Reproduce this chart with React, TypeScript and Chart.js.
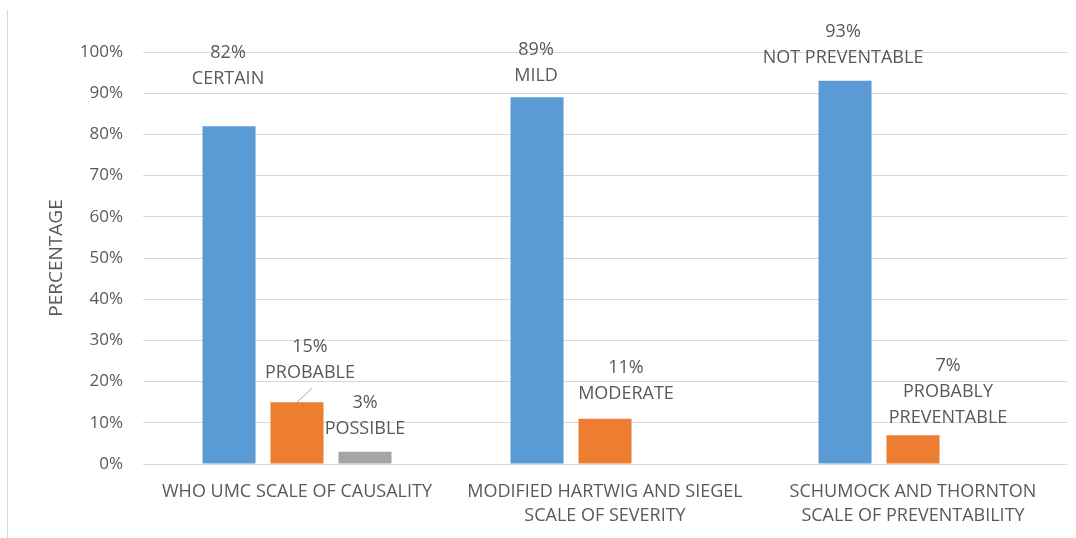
import React, { useEffect, useRef } from "react";
import { Chart, registerables } from "chart.js";

Chart.register(...registerables);

// Category labels (multi-line)
const categories = [
  ["WHO UMC SCALE OF CAUSALITY"],
  ["MODIFIED HARTWIG AND SIEGEL", "SCALE OF SEVERITY"],
  ["SCHUMOCK AND THORNTON", "SCALE OF PREVENTABILITY"],
];

// Percent values for each rank within a scale
const firstValues = [82, 89, 93];
const secondValues = [15, 11, 7];
const thirdValues: (number | null)[] = [3, null, null];

// Names shown under each value label
const firstNames = [["CERTAIN"], ["MILD"], ["NOT PREVENTABLE"]];
const secondNames = [["PROBABLE"], ["MODERATE"], ["PROBABLY", "PREVENTABLE"]];
const thirdNames = [["POSSIBLE"], [], []];

// Y axis ticks
const yMax = 100;
const yStep = 10;
const yTitle = "PERCENTAGE";

const TEXT = "#595959";
const FONT = "'Open Sans', sans-serif";
const FONT_SIZE = 18;
const TICK_SIZE = 17;

// label placement relative to the top-centre of each bar: [dx, dy of first line]
const labelOffsets: number[][][] = [
  [[-1, -73], [-1, -47], [-2, -49]],
  [[13, -55], [21, -51], [35, -69]],
  [[0, -49], [0, 0], [0, 0]],
];

const namesBySeries = [firstNames, secondNames, thirdNames];

const labelPlugin = {
  id: "barLabels",
  afterDatasetsDraw(chart: any) {
    const ctx = chart.ctx;
    ctx.save();
    ctx.font = `${FONT_SIZE}px ${FONT}`;
    ctx.fillStyle = TEXT;
    ctx.textAlign = "center";
    ctx.textBaseline = "middle";
    chart.data.datasets.forEach((ds: any, i: number) => {
      const meta = chart.getDatasetMeta(i);
      meta.data.forEach((el: any, j: number) => {
        const v = ds.data[j];
        if (v === null || v === undefined) return;
        const [dx, dy] = labelOffsets[i][j];
        const lines = [`${v}%`, ...namesBySeries[i][j]];
        lines.forEach((t: string, k: number) => {
          ctx.fillText(t, el.x + dx, el.y + dy + k * 26);
        });
        // leader line for the first secondary label
        if (i === 1 && j === 0) {
          ctx.strokeStyle = "#a6a6a6";
          ctx.lineWidth = 1;
          ctx.beginPath();
          ctx.moveTo(el.x + 15, el.y - 14);
          ctx.lineTo(el.x, el.y);
          ctx.stroke();
        }
      });
    });
    // rotated y axis title
    const area = chart.chartArea;
    ctx.font = `19px ${FONT}`;
    ctx.translate(57, (area.top + area.bottom) / 2);
    ctx.rotate(-Math.PI / 2);
    ctx.fillText(yTitle, 0, 0);
    ctx.restore();
  },
};

export default function App() {
  const ref = useRef<HTMLCanvasElement>(null);

  useEffect(() => {
    if (!ref.current) return;
    const chart = new Chart(ref.current, {
      type: "bar",
      data: {
        labels: categories,
        datasets: [
          { label: "first", data: firstValues, backgroundColor: "#5B9BD5" },
          { label: "second", data: secondValues, backgroundColor: "#ED7D31" },
          { label: "third", data: thirdValues, backgroundColor: "#A5A5A5" },
        ],
      },
      options: {
        responsive: false,
        animation: false,
        devicePixelRatio: 1,
        layout: { padding: { top: 52, right: 9, left: 0, bottom: 0 } },
        datasets: {
          bar: { categoryPercentage: 0.662, barPercentage: 0.78 },
        },
        plugins: {
          legend: { display: false },
          tooltip: { enabled: false },
          title: { display: false },
        },
        scales: {
          x: {
            grid: { display: false, drawTicks: false },
            border: { display: false },
            ticks: {
              color: TEXT,
              font: { family: FONT, size: FONT_SIZE, lineHeight: 24 / FONT_SIZE },
              padding: 16,
              maxRotation: 0,
              autoSkip: false,
            },
            afterFit: (s: any) => {
              s.height = 538 - 464;
            },
          },
          y: {
            min: 0,
            max: yMax,
            grid: { color: "#d9d9d9", drawTicks: false },
            border: { display: false },
            ticks: {
              stepSize: yStep,
              color: TEXT,
              font: { family: FONT, size: TICK_SIZE },
              padding: 20,
              callback: (v: any) => `${v}%`,
            },
            afterFit: (s: any) => {
              s.width = 143;
            },
          },
        },
      },
      plugins: [labelPlugin],
    });
    return () => chart.destroy();
  }, []);

  return (
    <div
      style={{
        position: "fixed",
        left: 0,
        top: 0,
        width: 1076,
        height: 538,
        background: "#ffffff",
      }}
    >
      <div
        style={{
          position: "absolute",
          left: 7,
          top: 10,
          width: 0,
          height: 528,
          borderLeft: "1px solid #d9d9d9",
        }}
      />
      <canvas
        ref={ref}
        width={1076}
        height={538}
        style={{ position: "absolute", left: 0, top: 0 }}
      />
    </div>
  );
}
